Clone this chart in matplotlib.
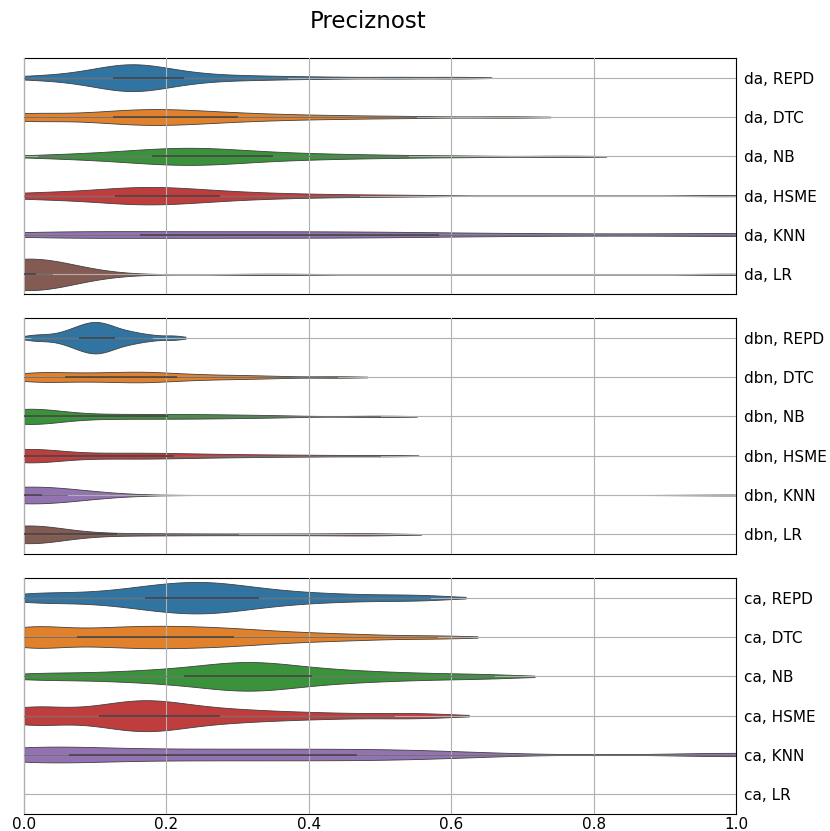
import numpy as np
import matplotlib
matplotlib.use("Agg")
import matplotlib.pyplot as plt
from matplotlib import mlab

models = ["REPD", "DTC", "NB", "HSME", "KNN", "LR"]
colors = ["#3274a1", "#e1812c", "#3a923a", "#c03d3e", "#9372b2", "#845b53"]

# precision per model on the "da" set
da_REPD = [0.00, 0.03, 0.06, 0.08, 0.09, 0.10, 0.11, 0.12, 0.12, 0.13, 0.13, 0.14, 0.14, 0.15, 0.15, 0.16, 0.16, 0.16,
           0.17, 0.17, 0.18, 0.18, 0.19, 0.20, 0.21, 0.22, 0.23, 0.25, 0.27, 0.30, 0.33, 0.37, 0.43, 0.52, 0.61]
da_DTC = [0.00, 0.00, 0.00, 0.01, 0.02, 0.08, 0.10, 0.12, 0.13, 0.14, 0.15, 0.16, 0.17, 0.18, 0.19, 0.20, 0.21, 0.22,
          0.23, 0.24, 0.26, 0.27, 0.29, 0.31, 0.33, 0.36, 0.39, 0.43, 0.48, 0.55, 0.68]
da_NB = [0.02, 0.06, 0.09, 0.11, 0.13, 0.15, 0.16, 0.17, 0.18, 0.19, 0.20, 0.21, 0.22, 0.23, 0.24, 0.24, 0.25, 0.26,
         0.27, 0.28, 0.29, 0.30, 0.32, 0.33, 0.35, 0.37, 0.39, 0.42, 0.45, 0.49, 0.54, 0.62, 0.76]
da_HSME = [0.00, 0.00, 0.01, 0.03, 0.07, 0.09, 0.11, 0.12, 0.13, 0.14, 0.15, 0.16, 0.16, 0.17, 0.18, 0.18, 0.19, 0.20,
           0.21, 0.22, 0.23, 0.24, 0.26, 0.27, 0.29, 0.31, 0.34, 0.37, 0.41, 0.47, 0.55, 0.98]
da_KNN = [0.00, 0.01, 0.03, 0.05, 0.08, 0.11, 0.14, 0.17, 0.20, 0.23, 0.26, 0.29, 0.32, 0.35, 0.38, 0.41, 0.44, 0.47,
          0.50, 0.53, 0.57, 0.62, 0.68, 0.76, 0.84, 0.99, 1.00, 1.00]
da_LR = [0.00, 0.00, 0.00, 0.00, 0.00, 0.00, 0.00, 0.00, 0.00, 0.00, 0.00, 0.00, 0.00, 0.00, 0.00, 0.00, 0.00, 0.00,
         0.01, 0.02, 0.03, 0.04, 0.06, 0.08, 0.35, 1.00]

# precision per model on the "dbn" set
dbn_REPD = [0.01, 0.03, 0.05, 0.06, 0.07, 0.075, 0.08, 0.085, 0.09, 0.095, 0.10, 0.10, 0.105, 0.11, 0.115, 0.12,
            0.125, 0.13, 0.14, 0.15, 0.16, 0.18, 0.21]
dbn_DTC = [0.00, 0.00, 0.01, 0.02, 0.03, 0.05, 0.06, 0.08, 0.09, 0.11, 0.12, 0.14, 0.15, 0.16, 0.17, 0.18, 0.19, 0.21,
           0.23, 0.25, 0.28, 0.31, 0.35, 0.44]
dbn_NB = [0.00, 0.00, 0.00, 0.00, 0.00, 0.00, 0.00, 0.00, 0.01, 0.02, 0.04, 0.06, 0.09, 0.12, 0.15, 0.18, 0.21, 0.24,
          0.27, 0.31, 0.36, 0.50]
dbn_HSME = [0.00, 0.00, 0.00, 0.00, 0.00, 0.00, 0.00, 0.01, 0.02, 0.05, 0.08, 0.11, 0.14, 0.16, 0.18, 0.21, 0.24, 0.28,
            0.33, 0.40, 0.50]
dbn_KNN = [0.00, 0.00, 0.00, 0.00, 0.00, 0.00, 0.00, 0.00, 0.00, 0.00, 0.00, 0.00, 0.01, 0.02, 0.03, 0.04, 0.06, 0.09,
           1.00]
dbn_LR = [0.00, 0.00, 0.00, 0.00, 0.00, 0.00, 0.00, 0.00, 0.00, 0.00, 0.00, 0.00, 0.01, 0.02, 0.04, 0.06, 0.10, 0.16,
          0.22, 0.30, 0.38, 0.46, 0.50]

# precision per model on the "ca" set (LR has no scores)
ca_REPD = [0.00, 0.01, 0.04, 0.07, 0.10, 0.12, 0.14, 0.16, 0.17, 0.18, 0.19, 0.20, 0.21, 0.22, 0.23, 0.24, 0.25, 0.25,
           0.26, 0.27, 0.28, 0.29, 0.30, 0.31, 0.33, 0.34, 0.36, 0.38, 0.41, 0.44, 0.48, 0.53, 0.57]
ca_DTC = [0.00, 0.00, 0.00, 0.00, 0.01, 0.02, 0.03, 0.07, 0.09, 0.11, 0.12, 0.14, 0.15, 0.17, 0.18, 0.19, 0.21, 0.22,
          0.24, 0.25, 0.27, 0.28, 0.30, 0.32, 0.34, 0.37, 0.40, 0.44, 0.49, 0.58]
ca_NB = [0.00, 0.03, 0.08, 0.12, 0.15, 0.18, 0.20, 0.22, 0.24, 0.26, 0.27, 0.28, 0.29, 0.30, 0.31, 0.32, 0.33, 0.34,
         0.35, 0.36, 0.37, 0.39, 0.41, 0.43, 0.45, 0.48, 0.51, 0.55, 0.60, 0.66]
ca_HSME = [0.00, 0.00, 0.00, 0.01, 0.02, 0.03, 0.08, 0.10, 0.12, 0.13, 0.14, 0.15, 0.16, 0.17, 0.17, 0.18, 0.19, 0.20,
           0.21, 0.22, 0.24, 0.26, 0.28, 0.30, 0.33, 0.36, 0.40, 0.45, 0.52, 0.57]
ca_KNN = [0.00, 0.00, 0.00, 0.00, 0.01, 0.02, 0.04, 0.07, 0.10, 0.13, 0.16, 0.19, 0.22, 0.25, 0.28, 0.31, 0.34, 0.37,
          0.40, 0.43, 0.46, 0.49, 0.52, 0.55, 0.58, 0.64, 1.00, 1.00]
ca_LR = []

panels = [
    ("da", [da_REPD, da_DTC, da_NB, da_HSME, da_KNN, da_LR]),
    ("dbn", [dbn_REPD, dbn_DTC, dbn_NB, dbn_HSME, dbn_KNN, dbn_LR]),
    ("ca", [ca_REPD, ca_DTC, ca_NB, ca_HSME, ca_KNN, ca_LR]),
]

BW = 0.3      # kde bandwidth factor
CUT = 1.2     # how far (in bandwidths) the violin runs past the data
GRAY = "#3f3f3f"


def kde_curve(vals):
    v = np.asarray(vals, dtype=float)
    kde = mlab.GaussianKDE(v, BW)
    bw = kde.factor * v.std(ddof=1)
    grid = np.linspace(v.min() - CUT * bw, v.max() + CUT * bw, 200)
    return v, grid, kde.evaluate(grid)


def draw_violins(ax, groups):
    curves = [kde_curve(g) if len(g) > 1 else None for g in groups]
    peak = max(c[2].max() for c in curves if c is not None)
    for i, c in enumerate(curves):
        if c is None:
            continue
        v, grid, dens = c
        half = 0.4 * dens / peak
        ax.fill_between(grid, i - half, i + half, facecolor=colors[i],
                        edgecolor=GRAY, linewidth=0.6, zorder=1)
        # inner box: whiskers at 1.5 IQR, thicker bar for the quartiles
        q1, q3 = np.percentile(v, [25, 75])
        lim = 1.5 * (q3 - q1)
        lo = v[v >= q1 - lim].min()
        hi = v[v <= q3 + lim].max()
        ax.plot([lo, hi], [i, i], color=GRAY, linewidth=0.5, alpha=0.8, zorder=3)
        ax.plot([q1, q3], [i, i], color=GRAY, linewidth=1.3, alpha=0.8, zorder=3,
                solid_capstyle="butt")


fig = plt.figure(figsize=(8.3, 8.31), dpi=100)
tops = [58, 318, 578]
for k, (name, groups) in enumerate(panels):
    top = tops[k]
    ax = fig.add_axes([24 / 830, 1 - (top + 236) / 831, 712 / 830, 236 / 831])
    ax.set_axisbelow(False)
    draw_violins(ax, groups)
    ax.set_xlim(0, 1)
    ax.set_ylim(5.5, -0.5)
    ax.set_yticks(range(len(models)))
    ax.set_yticklabels([f"{name}, {m}" for m in models])
    ax.yaxis.tick_right()
    ax.set_xticks([0, 0.2, 0.4, 0.6, 0.8, 1.0])
    ax.grid(True, color="#b0b0b0", linewidth=0.8, zorder=2)
    ax.tick_params(axis="both", length=0, labelsize=11)
    ax.tick_params(axis="y", pad=6)
    ax.tick_params(axis="x", pad=2)
    if k < 2:
        ax.tick_params(axis="x", labelbottom=False)

fig.text(368 / 830, 1 - 22 / 831, "Preciznost", ha="center", va="center", fontsize=16.5)

plt.savefig("out.png", dpi=100)
